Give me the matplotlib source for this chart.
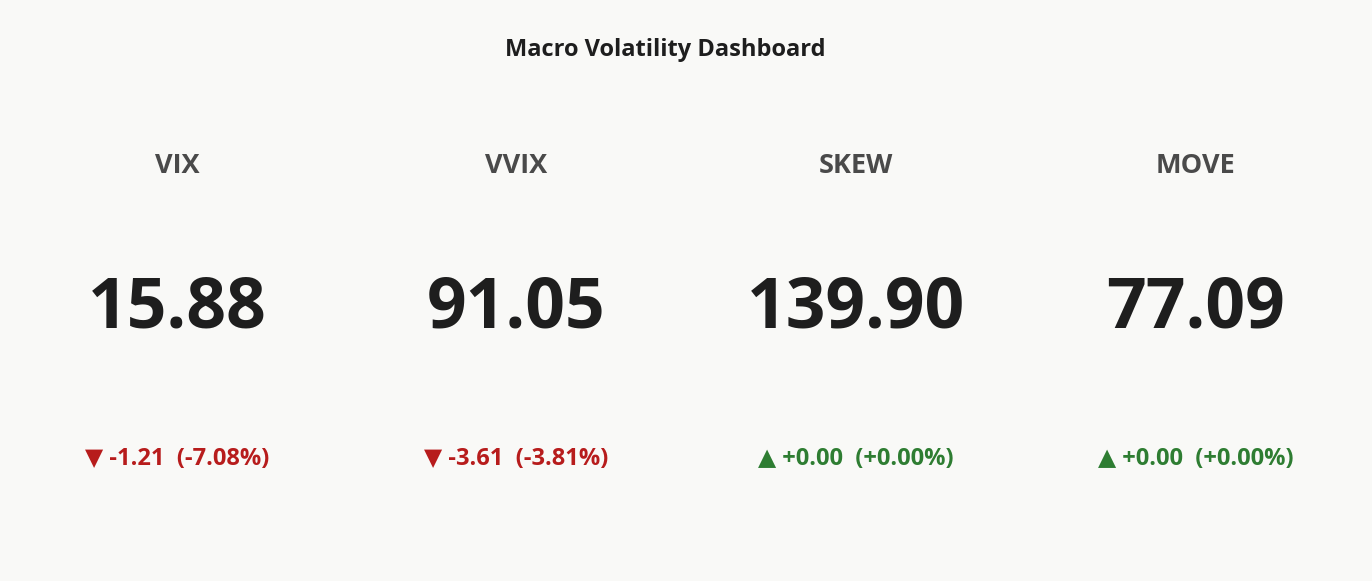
import matplotlib.pyplot as plt

names = ["VIX", "VVIX", "SKEW", "MOVE"]
values = [15.88, 91.05, 139.90, 77.09]
changes = [-1.21, -3.61, 0.00, 0.00]
pcts = [-7.08, -3.81, 0.00, 0.00]

plt.rcParams['font.family'] = ['Open Sans', 'DejaVu Sans']

fig = plt.figure(figsize=(13.72, 5.81), dpi=100)
fig.patch.set_facecolor("#f9f9f7")

fig.text(0.485, 1 - 50 / 581, "Macro Volatility Dashboard", ha="center", va="center",
         fontsize=17, fontweight="bold", color="#1e1e1e")

xs = [177, 516, 856, 1196]
for x, n, v, c, p in zip(xs, names, values, changes, pcts):
    fx = x / 1372
    fig.text(fx, 1 - 166 / 581, n, ha="center", va="center", fontsize=19.5,
             fontweight="bold", color="#4a4a4a")
    fig.text(fx, 1 - 310 / 581, f"{v:.2f}", ha="center", va="center", fontsize=50,
             fontweight="bold", color="#1e1e1e")
    if c < 0:
        col, arrow = "#b71c1c", "▼"
    else:
        col, arrow = "#2e7d32", "▲"
    fig.text(fx, 1 - 459 / 581, f"{arrow} {c:+.2f}  ({p:+.2f}%)", ha="center",
             va="center", fontsize=17, fontweight="bold", color=col,
             family=['Open Sans', 'DejaVu Sans'])

fig.savefig("out.png", dpi=100, facecolor=fig.get_facecolor())
